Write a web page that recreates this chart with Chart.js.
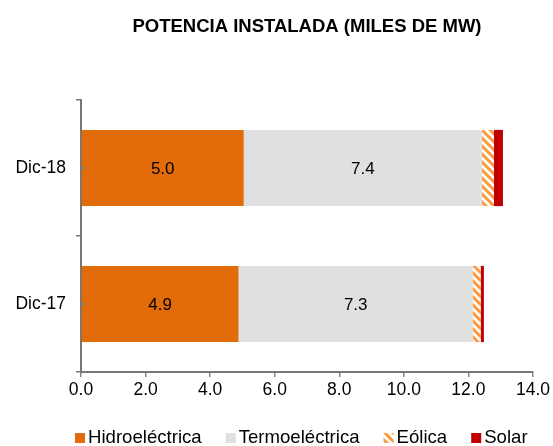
<!DOCTYPE html>
<html>
<head>
<meta charset="utf-8">
<script src="https://cdn.jsdelivr.net/npm/chart.js@4/dist/chart.umd.min.js"></script>
<style>
  html, body { margin: 0; padding: 0; background: #fff; }
  #wrap { width: 553px; height: 446px; }
</style>
</head>
<body>
<div id="wrap"><canvas id="chart"></canvas></div>
<script>
let periods = ['Dic-18', 'Dic-17'];
let hidro = [5.04, 4.88];
let termo = [7.38, 7.26];
let eolica = [0.37, 0.24];
let solar = [0.28, 0.10];
let xTicks = [0, 2, 4, 6, 8, 10, 12, 14];
let chartTitle = 'POTENCIA INSTALADA (MILES DE MW)';

const FONT = '"Liberation Sans", Arial, sans-serif';
Chart.defaults.font.family = FONT;
Chart.defaults.color = '#000';

// striped fill for the wind series
function hatch() {
    const c = document.createElement('canvas');
    c.width = 8; c.height = 8;
    const g = c.getContext('2d');
    g.fillStyle = '#fff';
    g.fillRect(0, 0, 8, 8);
    g.strokeStyle = '#ff9a3c';
    g.lineWidth = 3;
    g.beginPath();
    g.moveTo(-2, -2); g.lineTo(10, 10);
    g.moveTo(-6, 2); g.lineTo(2, 10);
    g.moveTo(6, -2); g.lineTo(10, 2);
    g.stroke();
    return g.createPattern(c, 'repeat');
}

// values written inside the first two stacks
const barLabels = {
    id: 'barLabels',
    afterDatasetsDraw(chart) {
        const ctx = chart.ctx;
        ctx.save();
        ctx.font = '17px ' + FONT;
        ctx.fillStyle = '#000';
        ctx.textAlign = 'center';
        ctx.textBaseline = 'middle';
        [0, 1].forEach(di => {
            const meta = chart.getDatasetMeta(di);
            meta.data.forEach((bar, i) => {
                const v = chart.data.datasets[di].data[i];
                ctx.fillText(v.toFixed(1), (bar.x + bar.base) / 2, bar.y + 1);
            });
        });
        // short marks at the category centres, inside the axis
        ctx.strokeStyle = '#777';
        ctx.lineWidth = 1.5;
        const ys = chart.scales.y;
        const left = chart.chartArea.left;
        periods.forEach((p, i) => {
            const y = ys.getPixelForValue(i);
            ctx.beginPath();
            ctx.moveTo(left, y);
            ctx.lineTo(left + 4, y);
            ctx.stroke();
        });
        ctx.restore();
    }
};

// title over the plot area and a compact legend at the bottom
const frame = {
    id: 'frame',
    afterDraw(chart) {
        const ctx = chart.ctx;
        const area = chart.chartArea;
        ctx.save();
        ctx.fillStyle = '#000';
        ctx.textBaseline = 'middle';
        ctx.textAlign = 'center';
        ctx.font = 'bold 18.5px ' + FONT;
        ctx.fillText(chartTitle, (area.left + area.right) / 2, 27);

        ctx.textAlign = 'left';
        ctx.font = '18.6px ' + FONT;
        let x = 75;
        const y = 438;
        chart.data.datasets.forEach(ds => {
            ctx.fillStyle = ds.backgroundColor;
            ctx.fillRect(x, y - 5, 10, 10);
            ctx.fillStyle = '#000';
            ctx.fillText(ds.label, x + 13, y);
            x += 13 + ctx.measureText(ds.label).width + 24;
        });
        ctx.restore();
    }
};

new Chart(document.getElementById('chart'), {
    type: 'bar',
    data: {
        labels: periods,
        datasets: [
            { label: 'Hidroeléctrica', data: hidro, backgroundColor: '#e36c0a' },
            { label: 'Termoeléctrica', data: termo, backgroundColor: '#e0e0e0' },
            { label: 'Eólica', data: eolica, backgroundColor: hatch() },
            { label: 'Solar', data: solar, backgroundColor: '#c00000' }
        ]
    },
    options: {
        indexAxis: 'y',
        responsive: true,
        maintainAspectRatio: false,
        animation: false,
        layout: { padding: { left: 0, right: 20, top: 100, bottom: 44 } },
        datasets: { bar: { categoryPercentage: 0.56, barPercentage: 1.0 } },
        plugins: {
            title: { display: false },
            legend: { display: false },
            tooltip: { enabled: false }
        },
        scales: {
            x: {
                stacked: true,
                min: 0,
                max: 14,
                afterBuildTicks: s => { s.ticks = xTicks.map(v => ({ value: v })); },
                ticks: { callback: v => v.toFixed(1), font: { size: 17.5 }, padding: 3, maxRotation: 0 },
                grid: { drawOnChartArea: false, tickLength: 5, color: '#888', lineWidth: 1.5 },
                border: { color: '#777', width: 2 },
                afterFit: s => { s.height = 30; }
            },
            y: {
                stacked: true,
                ticks: { font: { size: 17.5 }, padding: 10 },
                grid: { drawOnChartArea: false, tickLength: 5, color: '#777', lineWidth: 1.5 },
                border: { color: '#777', width: 2 },
                afterFit: s => { s.width = 81; }
            }
        }
    },
    plugins: [barLabels, frame]
});
</script>
</body>
</html>
